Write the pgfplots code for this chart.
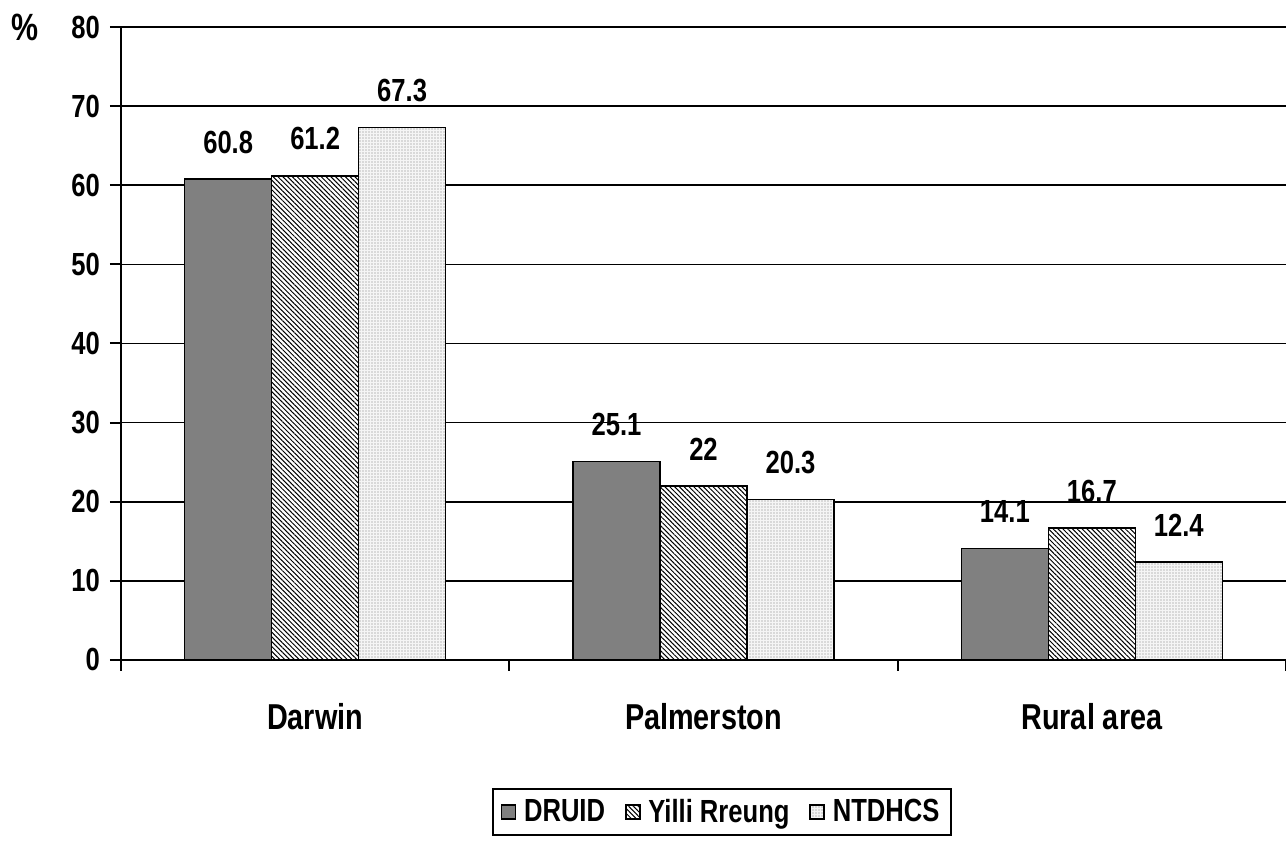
\documentclass[border=0pt]{standalone}
\usepackage{pgfplots}
\pgfplotsset{compat=1.18}
\usetikzlibrary{patterns.meta,calc}
\usepackage{fontspec}
\setmainfont{Liberation Sans}[FakeStretch=0.8]
\definecolor{druid}{HTML}{808080}
\begin{document}
\begin{tikzpicture}
\begin{axis}[
  width=582.5pt, height=316.5pt, scale only axis,
  ybar=0pt, bar width=0.224,
  xmin=-0.5, xmax=2.5, ymin=0, ymax=80,
  axis x line*=bottom, axis y line*=left,
  axis line style={-, line width=1pt},
  xtick={0,1,2}, xticklabels={Darwin,Palmerston,Rural area},
  minor xtick={-0.5,0.5,1.5,2.5},
  ytick={0,10,...,80},
  minor ytick={0,10,...,80},
  tick style={draw=black, line width=1pt},
  minor tick style={draw=black, line width=1pt},
  tick align=outside, major tick length=0pt, minor tick length=5.5pt,
  ymajorgrids, grid style={black, line width=0.8pt},
  /pgf/number format/assume math mode=true,
  yticklabel style={font=\bfseries\fontsize{16}{16}\selectfont, xshift=-7pt},
  xticklabel style={font=\bfseries\fontsize{18}{18}\selectfont, yshift=-18pt},
  nodes near coords,
  nodes near coords style={font=\bfseries\fontsize{16}{16}\selectfont, anchor=south, yshift=9pt},
  legend columns=3,
  legend style={at={(rel axis cs:0.516,0)}, anchor=north, yshift=-64pt,
    draw=black, line width=1pt, font=\bfseries\fontsize{16}{16}\selectfont,
    inner xsep=4pt, inner ysep=3pt,
    /tikz/every odd column/.style={column sep=2pt},
    /tikz/every even column/.style={column sep=8pt}},
  legend image code/.code={\draw[#1, line width=0.6pt] (0pt,-3.5pt) rectangle (7pt,3.5pt);},
]
\addplot[draw=black, line width=0.8pt, fill=druid] coordinates {(0,60.8) (1,25.1) (2,14.1)};
\addplot[draw=black, line width=0.8pt, preaction={fill=white}, pattern={Lines[angle=-45,distance=1.7pt,line width=0.5pt]}, pattern color=black] coordinates {(0,61.2) (1,22) (2,16.7)};
\addplot[draw=black, line width=0.8pt, preaction={fill=gray!8}, pattern={Dots[distance=1.5pt,radius=0.3pt]}, pattern color=gray] coordinates {(0,67.3) (1,20.3) (2,12.4)};
\legend{DRUID, Yilli Rreung, NTDHCS}
\coordinate (bl) at (rel axis cs:0,0);
\coordinate (tr) at (rel axis cs:1,1);
\end{axis}
\node[font=\bfseries\fontsize{19}{19}\selectfont] at ($(bl|-tr)+(-48pt,0)$) {\%};
\pgfresetboundingbox
\path[use as bounding box] ($(bl)+(-60.5pt,-93pt)$) rectangle ($(tr)+(0pt,13.5pt)$);
\end{tikzpicture}
\end{document}
